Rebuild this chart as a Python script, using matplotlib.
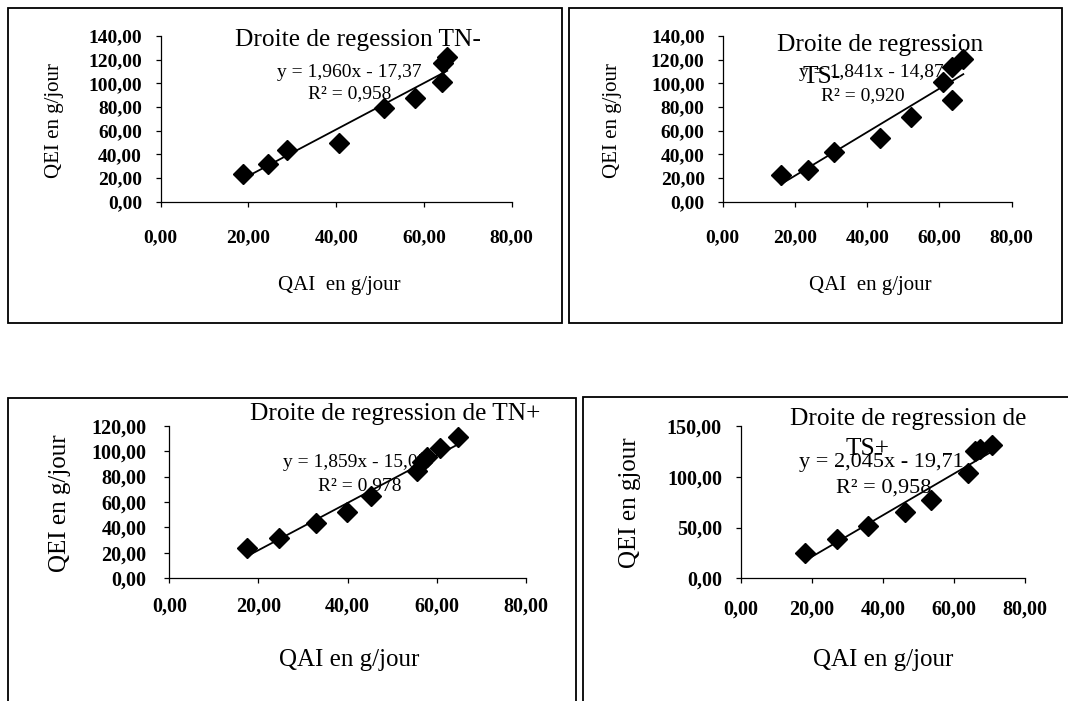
import matplotlib
matplotlib.use("Agg")
import matplotlib.pyplot as plt
from matplotlib.patches import Rectangle
import numpy as np

W, H = 1068, 701
plt.rcParams['font.family'] = ['Liberation Serif', 'DejaVu Serif']

# ---------------- data ----------------
x_tn_minus = [18.7, 24.5, 28.7, 40.7, 51.0, 58.0, 64.1, 64.4, 65.3]
y_tn_minus = [23.1, 31.8, 43.7, 49.9, 78.9, 87.3, 101.4, 116.9, 122.5]

x_ts_minus = [16.1, 23.7, 30.9, 43.5, 52.0, 60.9, 63.6, 63.6, 66.6]
y_ts_minus = [22.5, 26.8, 42.3, 53.5, 71.3, 101.4, 85.9, 113.5, 120.3]

x_tn_plus = [17.5, 24.7, 32.8, 39.9, 45.2, 55.5, 56.6, 57.7, 60.7, 64.8]
y_tn_plus = [23.6, 32.0, 43.2, 51.9, 64.7, 84.4, 91.2, 95.6, 102.2, 111.3]

x_ts_plus = [18.1, 27.0, 35.9, 46.2, 53.6, 63.9, 65.9, 67.4, 70.6]
y_ts_plus = [24.6, 38.4, 51.5, 65.6, 77.1, 103.4, 125.7, 127.0, 131.3]

slopes = [1.960, 1.841, 1.859, 2.045]
intercepts = [-17.37, -14.87, -15.05, -19.71]
eq_texts = ["y = 1,960x - 17,37", "y = 1,841x - 14,87",
            "y = 1,859x - 15,05", "y = 2,045x - 19,71"]
r2_texts = ["R² = 0,958", "R² = 0,920", "R² = 0,978", "R² = 0,958"]
title_line1 = ["Droite de regession TN-", "Droite de regression",
               "Droite de regression de TN+", "Droite de regression de"]
title_line2 = [None, "TS-", None, "TS+"]
xlabels = ["QAI  en g/jour", "QAI  en g/jour", "QAI en g/jour", "QAI en g/jour"]
ylabels = ["QEI en g/jour", "QEI en g/jour", "QEI en g/jour", "QEI en gjour"]
x_ticks = [0, 20, 40, 60, 80]
y_ticks = [list(range(0, 141, 20)), list(range(0, 141, 20)),
           list(range(0, 121, 20)), [0, 50, 100, 150]]

xs = [x_tn_minus, x_ts_minus, x_tn_plus, x_ts_plus]
ys = [y_tn_minus, y_ts_minus, y_tn_plus, y_ts_plus]

# ---------------- layout (pixels) ----------------
axes_px = [  # left, right, top, bottom
    (160.7, 511.7, 36.0, 201.7),
    (722.7, 1011.7, 36.0, 201.7),
    (169.3, 526.0, 425.7, 578.3),
    (740.7, 1025.0, 426.0, 578.3),
]
tick_fs = [14.0, 14.0, 14.5, 14.5]
xpad = [16.0, 16.0, 9.5, 12.0]
ypad = [10.0, 9.5, 13.0, 10.0]
label_fs = [15, 15, 18, 18]
eq_fs = [14, 14, 14, 16]
title_fs = 18.3
xlab_pos = [(339, 285), (870, 285), (349, 660), (883, 660)]
ylab_pos = [(55, 120), (612, 120), (60, 503), (630, 503)]
title1_pos = [(358, 46), (880, 51), (395, 420), (908, 425)]
title2_pos = [None, (822, 83), None, (868, 455)]
eq_pos = [(349, 76.7), (871, 76.7), (355, 466.7), (881, 466.7)]
r2_pos = [(350, 98.3), (863, 100), (360, 490), (884, 493)]

fig = plt.figure(figsize=(W / 100, H / 100), dpi=100)


def fx(x):
    return x / W


def fy(y):
    return 1 - y / H


# panel frames
frames = [(8, 8, 562, 323), (569, 8, 1062, 323), (8, 398, 576, 712), (583, 397, 1080, 712)]
for (x0, y0, x1, y1) in frames:
    fig.add_artist(Rectangle((fx(x0), fy(y1)), fx(x1) - fx(x0), fy(y0) - fy(y1),
                             transform=fig.transFigure, fill=False,
                             edgecolor='black', linewidth=1.3))

for i in range(4):
    l, r, t, b = axes_px[i]
    ax = fig.add_axes([fx(l), fy(b), fx(r) - fx(l), fy(t) - fy(b)])
    ax.set_facecolor('none')
    ax.set_xlim(0, 80)
    ax.set_ylim(0, y_ticks[i][-1])
    ax.set_xticks(x_ticks)
    ax.set_yticks(y_ticks[i])
    ax.set_xticklabels([f"{v},00" for v in x_ticks], fontsize=tick_fs[i], fontweight='bold')
    ax.set_yticklabels([f"{v},00" for v in y_ticks[i]], fontsize=tick_fs[i], fontweight='bold')
    for s in ['top', 'right']:
        ax.spines[s].set_visible(False)
    for s in ['left', 'bottom']:
        ax.spines[s].set_linewidth(0.9)
    ax.tick_params(axis='x', direction='out', length=3.5, width=0.9, pad=xpad[i])
    ax.tick_params(axis='y', direction='out', length=3.5, width=0.9, pad=ypad[i])

    # texts behind markers
    ax.text(fx(title1_pos[i][0]), fy(title1_pos[i][1]), title_line1[i],
            transform=fig.transFigure, ha='center', va='baseline',
            fontsize=title_fs, zorder=1, clip_on=False)
    if title_line2[i]:
        ax.text(fx(title2_pos[i][0]), fy(title2_pos[i][1]), title_line2[i],
                transform=fig.transFigure, ha='center', va='baseline',
                fontsize=title_fs, zorder=1, clip_on=False)
    ax.text(fx(eq_pos[i][0]), fy(eq_pos[i][1]), eq_texts[i],
            transform=fig.transFigure, ha='center', va='baseline',
            fontsize=eq_fs[i], zorder=1, clip_on=False)
    ax.text(fx(r2_pos[i][0]), fy(r2_pos[i][1]), r2_texts[i],
            transform=fig.transFigure, ha='center', va='baseline',
            fontsize=eq_fs[i], zorder=1, clip_on=False)

    # trendline
    xa = np.array(xs[i])
    xl = np.array([xa.min(), xa.max()])
    ax.plot(xl, slopes[i] * xl + intercepts[i], color='black', lw=1.3, zorder=2,
            clip_on=False)
    # markers
    ax.plot(xs[i], ys[i], linestyle='none', marker='D', markersize=10.5,
            color='black', zorder=3, clip_on=False)

    fig.text(fx(xlab_pos[i][0]), fy(xlab_pos[i][1]), xlabels[i], ha='center',
             va='center', fontsize=label_fs[i])
    fig.text(fx(ylab_pos[i][0]), fy(ylab_pos[i][1]), ylabels[i], ha='center',
             va='center', fontsize=label_fs[i], rotation=90)

fig.savefig("out.png", dpi=100)
